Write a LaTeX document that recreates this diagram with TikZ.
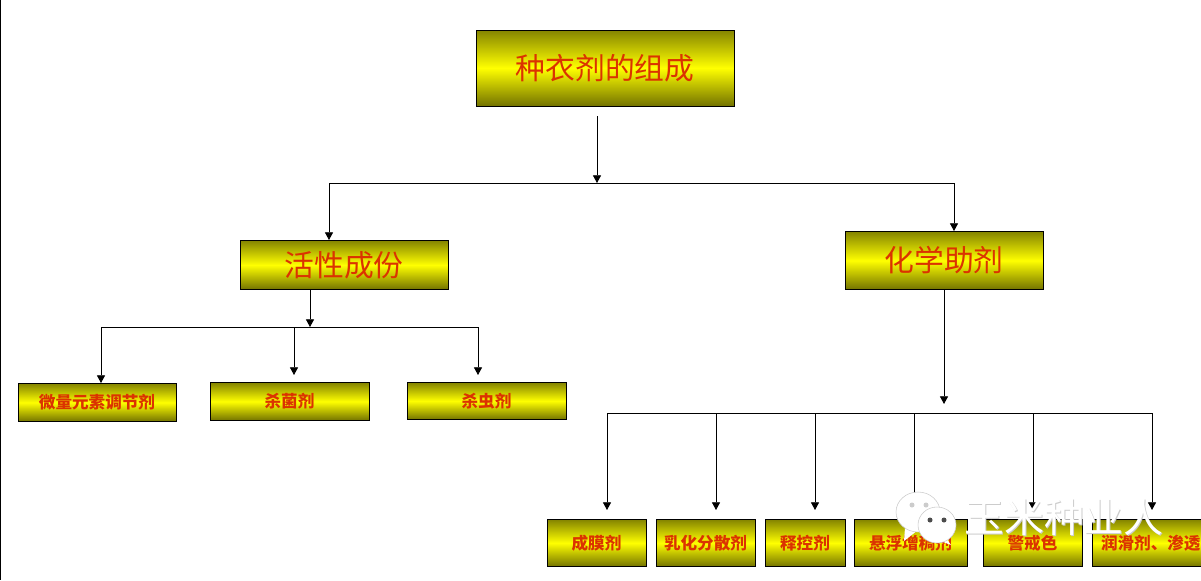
\documentclass[tikz,border=0pt]{standalone}
\usepackage{xcolor}
\usepackage{fontspec}
\usetikzlibrary{positioning,arrows.meta}
\newfontfamily\cjk{Noto Sans CJK SC}
\definecolor{myOliveTop}{rgb}{0.52,0.52,0}
\definecolor{myOliveBot}{rgb}{0.45,0.45,0}
\definecolor{myYellow}{rgb}{1,1,0}
\definecolor{myRed}{rgb}{0.86,0.2,0}
\definecolor{myMark}{rgb}{0.8,0.8,0.8}

\begin{document}
\begin{tikzpicture}[x=0.025cm,y=-0.025cm,>={Triangle[length=5.5pt,width=5.8pt]},semithick]
  \tikzstyle{box}=[rectangle,draw=black,line width=0.7pt,top color=myOliveTop,bottom color=myOliveBot,middle color=myYellow,text=myRed,inner sep=0pt,font=\cjk]
  \tikzstyle{bigbox}=[box,font=\cjk\fontsize{21.2}{21}\selectfont]
  \tikzstyle{smallbox}=[box,font=\cjk\bfseries\fontsize{11.8}{12}\selectfont]
  \tikzstyle{link}=[->]
  \tikzstyle{wmtext}=[text=white,font=\cjk\fontsize{28.4}{28}\selectfont,inner sep=0pt]
  \tikzstyle{bubble}=[fill=white,draw=myMark,thin]
  \useasboundingbox (0,0) rectangle (1201,580);
  \clip (0,0) rectangle (1201,580);

  \coordinate (edgetop) at (0,0);
  \coordinate (edgebot) at (0,580);
  \draw[thick] (edgetop) -- (edgebot);

  \node[bigbox,minimum width=258*0.025cm,minimum height=76*0.025cm] (root) at (605,68) {\raisebox{-1.5pt}{种衣剂的组成}};
  \node[bigbox,minimum width=208*0.025cm,minimum height=49*0.025cm] (active) at (344,265) {活性成份};
  \node[bigbox,minimum width=198*0.025cm,minimum height=58*0.025cm] (aux) at (944,260.5) {化学助剂};

  \node[smallbox,minimum width=158*0.025cm,minimum height=38*0.025cm] (trace) at (97,402.5) {微量元素调节剂};
  \node[smallbox,minimum width=159*0.025cm,minimum height=38*0.025cm] (fungi) at (289.5,401.5) {杀菌剂};
  \node[smallbox,minimum width=159*0.025cm,minimum height=37*0.025cm] (insect) at (486.5,401) {杀虫剂};

  \node[smallbox,minimum width=99*0.025cm,minimum height=47*0.025cm] (film) at (596.5,543) {成膜剂};
  \node[smallbox,minimum width=99*0.025cm,minimum height=47*0.025cm] (emul) at (705.5,543) {乳化分散剂};
  \node[smallbox,minimum width=80*0.025cm,minimum height=47*0.025cm] (slow) at (805,543) {释控剂};
  \node[smallbox,minimum width=113*0.025cm,minimum height=47*0.025cm] (susp) at (910.5,543) {悬浮增稠剂};
  \node[smallbox,minimum width=99*0.025cm,minimum height=47*0.025cm] (warn) at (1032.5,543) {警戒色};
  \node[smallbox,minimum width=130*0.025cm,minimum height=47*0.025cm,text width=112*0.025cm,align=left] (lube) at (1157,543) {润滑剂、渗透};

  % first level
  \coordinate (rootout) at (597,116);
  \coordinate (rootbus) at (597,183);
  \coordinate (busleft) at (329,183);
  \coordinate (busright) at (954,183);
  \draw[link] (rootout) -- (rootbus);
  \draw[link] (rootbus) -- (busleft) -- (busleft |- active.north);
  \draw[link] (rootbus) -- (busright) -- (busright |- aux.north);

  % active branch
  \coordinate (activeout) at (310,290);
  \coordinate (activebus) at (310,327);
  \coordinate (aleft) at (101,327);
  \coordinate (amid) at (294,327);
  \coordinate (aright) at (478,327);
  \coordinate (amidend) at (294,375);
  \coordinate (arightend) at (478,375);
  \draw[link] (activeout) -- (activebus);
  \draw[link] (activebus) -- (aleft) -- (aleft |- trace.north);
  \draw[link] (amid) -- (amidend);
  \draw[link] (activebus) -- (aright) -- (arightend);

  % auxiliary branch
  \draw[link] (aux.south) -- ++(0,114) coordinate (auxend);
  \coordinate (b1) at (607,413);
  \coordinate (b6) at (1152,413);
  \draw (b1) -- (b6);
  \foreach \px/\pname in {607/a,716/b,815/c,914/d,1033/e,1152/f} {
    \coordinate (top\pname) at (\px,413);
    \coordinate (end\pname) at (\px,510);
    \draw[link] (top\pname) -- (end\pname);
  }

  % watermark
  \fill[white] (905,528) -- (904,541) -- (918,530) -- cycle;
  \draw[bubble] (918,512) ellipse (22 and 20);
  \fill[white] (946,538) -- (951,545) -- (938,540) -- cycle;
  \draw[bubble] (937,525) ellipse (19 and 18);
  \fill[myMark] (912,505) circle (2.5);
  \fill[myMark] (926,505) circle (2.5);
  \fill[black!70] (930,520) circle (2.5);
  \fill[black!70] (944,520) circle (2.5);
  \node[wmtext,text=myMark] (wmshadow) at (1065,518) {玉米种业人};
  \node[wmtext] (wm) at (1064,517) {玉米种业人};
\end{tikzpicture}
\end{document}
